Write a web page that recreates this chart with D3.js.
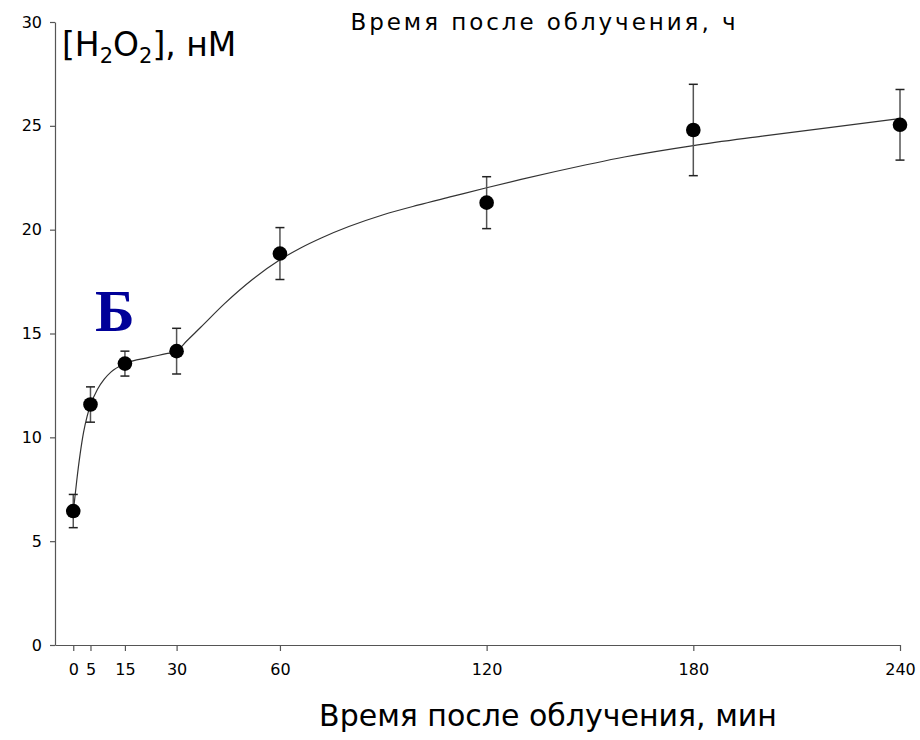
<!DOCTYPE html>
<html>
<head>
<meta charset="utf-8">
<script src="https://cdn.jsdelivr.net/npm/d3@7/dist/d3.min.js"></script>
<style>
  html, body { margin: 0; padding: 0; background: #fff; }
  svg { display: block; }
  text { font-family: "DejaVu Sans", Verdana, sans-serif; fill: #000; }
</style>
</head>
<body>
<svg id="chart" width="920" height="740"></svg>
<script>
// Measured H2O2 concentration after irradiation
const times = [0, 5, 15, 30, 60, 120, 180, 240];          // min
const conc  = [6.45, 11.58, 13.55, 14.15, 18.85, 21.3, 24.8, 25.05]; // nM
const errs  = [0.8, 0.85, 0.6, 1.1, 1.25, 1.25, 2.2, 1.7];

// Smooth trend curve through the measurements
const curveT = [0, 1, 2, 3, 4, 5, 7, 9, 11, 15, 22, 27, 30, 33, 37, 44, 52, 60, 66, 72, 80, 90, 100, 110, 120, 130, 140, 160, 180, 200, 220, 240];
const curveV = [6.4, 7.9, 9.2, 10.25, 11.0, 11.55, 12.3, 12.8, 13.15, 13.55, 13.85, 14.03, 14.15, 14.65, 15.3, 16.45, 17.6, 18.55, 19.12, 19.6, 20.15, 20.72, 21.18, 21.6, 22.02, 22.42, 22.8, 23.5, 24.05, 24.5, 24.93, 25.35];

const xTicks = [0, 5, 15, 30, 60, 120, 180, 240];
const yTicks = [0, 5, 10, 15, 20, 25, 30];

const svg = d3.select("#chart");

const x = d3.scaleLinear().domain([-5.3, 240]).range([55, 900]);
const y = d3.scaleLinear().domain([0, 30]).range([645, 22]);

const axisColor = "#555";

// Y axis
const gy = svg.append("g").attr("transform", `translate(${x.range()[0]},0)`)
  .call(d3.axisLeft(y).tickValues(yTicks).tickSize(5).tickSizeOuter(0).tickPadding(8));
// X axis
const gx = svg.append("g").attr("transform", `translate(0,${y(0)})`)
  .call(d3.axisBottom(x).tickValues(xTicks).tickSize(6).tickSizeOuter(0).tickPadding(13));

[gx, gy].forEach(g => {
  g.select(".domain").attr("stroke", axisColor).attr("stroke-width", 1.2);
  g.selectAll(".tick line").attr("stroke", axisColor).attr("stroke-width", 1.2);
  g.selectAll(".tick text").attr("font-family", "DejaVu Sans, Verdana, sans-serif")
    .attr("font-size", 16).attr("fill", "#000");
});

// Trend curve
const curveData = curveT.map((t, i) => [t, curveV[i]]);
svg.append("path")
  .datum(curveData)
  .attr("fill", "none")
  .attr("stroke", "#333")
  .attr("stroke-width", 1.2)
  .attr("d", d3.line().x(d => x(d[0])).y(d => y(d[1])).curve(d3.curveMonotoneX));

// Error bars
const pts = times.map((t, i) => ({ t, v: conc[i], e: errs[i] }));
const eb = svg.append("g");
eb.selectAll("line.stem").data(pts).join("line")
  .attr("class", "stem")
  .attr("x1", d => x(d.t)).attr("x2", d => x(d.t))
  .attr("y1", d => y(d.v + d.e)).attr("y2", d => y(d.v - d.e))
  .attr("stroke", "#555").attr("stroke-width", 1.5);
["top", "bot"].forEach(k => {
  eb.selectAll("line.cap-" + k).data(pts).join("line")
    .attr("class", "cap-" + k)
    .attr("x1", d => x(d.t) - 4.5).attr("x2", d => x(d.t) + 4.5)
    .attr("y1", d => y(k === "top" ? d.v + d.e : d.v - d.e))
    .attr("y2", d => y(k === "top" ? d.v + d.e : d.v - d.e))
    .attr("stroke", "#222").attr("stroke-width", 1.5);
});

// Markers
svg.append("g").selectAll("circle").data(pts).join("circle")
  .attr("cx", d => x(d.t)).attr("cy", d => y(d.v)).attr("r", 7.3)
  .attr("fill", "#000");

// Titles
svg.append("text").attr("x", 543).attr("y", 30).attr("text-anchor", "middle")
  .attr("font-size", 23).attr("textLength", 385).attr("lengthAdjust", "spacing")
  .text("Время после облучения, ч");

const yl = svg.append("text").attr("x", 62).attr("y", 56).attr("font-size", 33);
yl.append("tspan").text("[H");
yl.append("tspan").attr("font-size", 21).attr("dy", 7).text("2");
yl.append("tspan").attr("dy", -7).text("O");
yl.append("tspan").attr("font-size", 21).attr("dy", 7).text("2");
yl.append("tspan").attr("dy", -7).text("], нМ");

svg.append("text").attr("x", 548).attr("y", 726).attr("text-anchor", "middle")
  .attr("font-size", 30)
  .text("Время после облучения, мин");

svg.append("text").attr("x", 95).attr("y", 331)
  .style("font-family", "'Liberation Serif', 'Times New Roman', serif")
  .attr("font-weight", "bold").attr("font-size", 60).style("fill", "#000099")
  .text("Б");
</script>
</body>
</html>
